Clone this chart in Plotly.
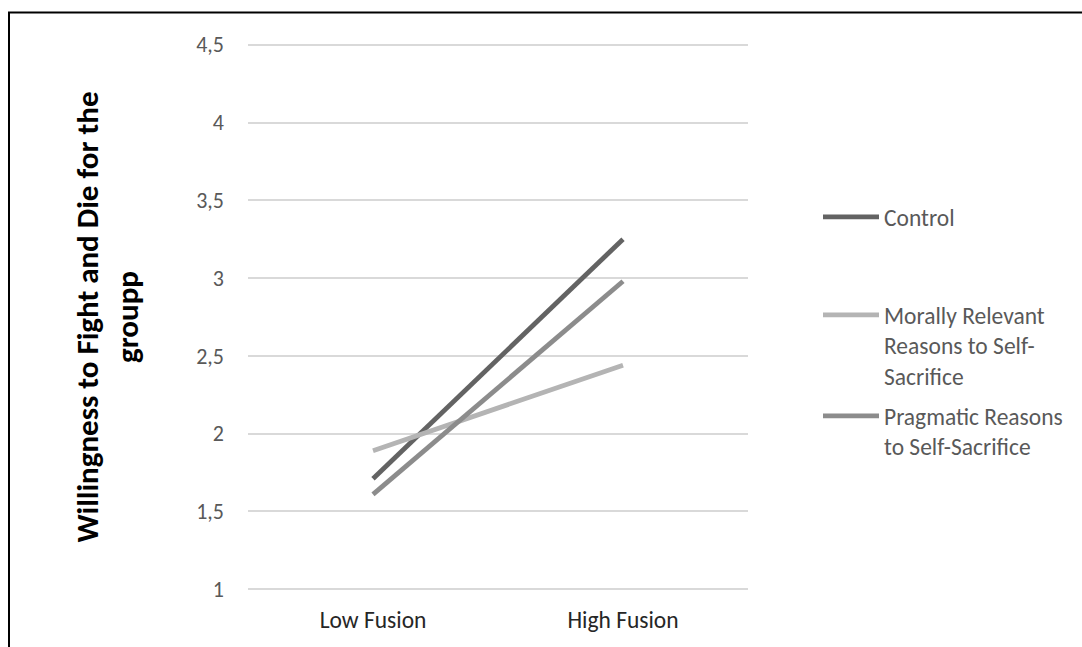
import plotly.graph_objects as go

categories = ["Low Fusion", "High Fusion"]
series_names = [
    "Control",
    "Morally Relevant<br>Reasons to Self-<br>Sacrifice",
    "Pragmatic Reasons<br>to Self-Sacrifice",
]
control = [1.71, 3.25]
morally = [1.89, 2.44]
pragmatic = [1.61, 2.98]
y_ticks = [1, 1.5, 2, 2.5, 3, 3.5, 4, 4.5]

colors = ["#636363", "#b4b4b4", "#8c8c8c"]
FONT = "Calibri, Carlito, Lato, sans-serif"

W, H = 1082, 647
PX_PER_UNIT = 155.7
Y_LO, Y_HI = 0.95, 4.55
fig = go.Figure()
legends = ["legend", "legend2", "legend3"]
for name, vals, col, lg in zip(series_names, [control, morally, pragmatic], colors, legends):
    fig.add_trace(go.Scatter(
        x=categories, y=vals, mode="lines", name=name,
        line=dict(color=col, width=4.8),
        legend=lg,
    ))

legend_tops = [195, 293, 394]  # pixel tops
leg_common = dict(
    xref="container", yref="container", xanchor="left", yanchor="top",
    font=dict(family=FONT, size=23.5, color="#595959"),
    bgcolor="rgba(0,0,0,0)", borderwidth=0, valign="top", itemwidth=56,
)
layout_legends = {}
for lg, top in zip(legends, legend_tops):
    layout_legends[lg] = dict(x=818 / W, y=1 - top / H, **leg_common)

top_m = 44.3 - (Y_HI - 4.5) * PX_PER_UNIT
bot_m = H - (589.3 + (1 - Y_LO) * PX_PER_UNIT)

fig.update_layout(
    width=W, height=H,
    margin=dict(l=248, r=334, t=top_m, b=bot_m),
    paper_bgcolor="white", plot_bgcolor="white",
    separators=", ",
    showlegend=True,
    font=dict(family=FONT, color="#595959"),
    **layout_legends,
)
fig.update_xaxes(
    type="category", range=[-0.5, 1.5], showgrid=False, zeroline=False,
    showline=False, ticks="", ticklabelstandoff=6,
    tickfont=dict(family=FONT, size=23.5, color="#262626"),
)
fig.update_yaxes(
    range=[Y_LO, Y_HI], tickvals=y_ticks, showgrid=True, gridcolor="#d9d9d9",
    gridwidth=1.5, zeroline=False, showline=False, ticks="",
    ticklabelstandoff=23,
    tickfont=dict(family=FONT, size=22, color="#595959"),
    title=dict(
        text="Willingness to Fight and Die for the<br>groupp",
        font=dict(family=FONT, size=31, color="#000000", weight="bold"),
        standoff=48,
    ),
)
# outer chart border (top and left visible)
plot_h = H - top_m - bot_m
fig.add_shape(type="rect", xref="paper", yref="paper",
              x0=(9 - 248) / 500, x1=2.0, y0=-0.5,
              y1=(H - bot_m - 12) / plot_h,
              line=dict(color="#000000", width=2), fillcolor="rgba(0,0,0,0)",
              layer="above")

fig.write_html("out.html")
